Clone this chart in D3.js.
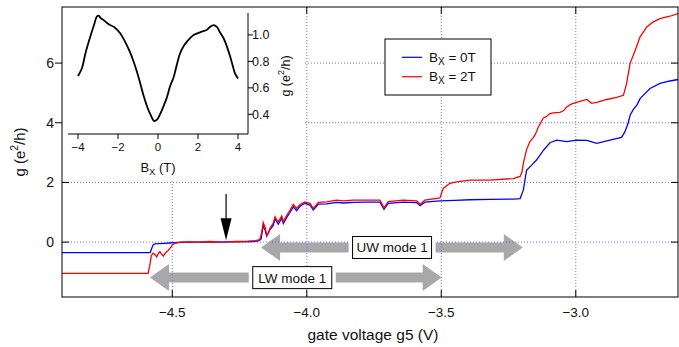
<!DOCTYPE html>
<html><head><meta charset="utf-8">
<script src="https://cdn.jsdelivr.net/npm/d3@7"></script>
<style>body{margin:0;background:#fff} text{font-family:"Liberation Sans",Arial,Helvetica,sans-serif;fill:#111}</style>
</head><body><svg id="c" width="679" height="347"></svg>
<script>
// ---- data ----
const xTicks = [-4.5, -4.0, -3.5, -3.0];
const yTicks = [0, 2, 4, 6];
const seriesNames = ["0T", "2T"];
const blue0T = [[-4.91,-0.35],[-4.582,-0.35],[-4.576,-0.2],[-4.57,-0.08],[-4.564,-0.06],[-4.55,-0.05],[-4.53,-0.04],[-4.51,-0.03],[-4.49,-0.02],[-4.47,-0.01],[-4.44,0.0],[-4.40,0.0],[-4.36,0.01],[-4.32,0.0],[-4.28,0.01],[-4.24,0.01],[-4.20,0.02],[-4.18,0.04],[-4.17,0.1],[-4.162,0.55],[-4.155,0.4],[-4.149,0.2],[-4.137,0.42],[-4.125,0.55],[-4.118,0.78],[-4.106,0.6],[-4.093,0.8],[-4.087,0.62],[-4.075,0.82],[-4.062,1.0],[-4.05,1.18],[-4.038,1.05],[-4.025,1.2],[-4.007,1.3],[-3.988,1.24],[-3.976,1.08],[-3.957,1.27],[-3.926,1.28],[-3.889,1.33],[-3.864,1.31],[-3.827,1.33],[-3.777,1.34],[-3.728,1.34],[-3.713,1.1],[-3.697,1.3],[-3.641,1.34],[-3.591,1.32],[-3.579,1.22],[-3.561,1.34],[-3.505,1.38],[-3.45,1.4],[-3.393,1.42],[-3.319,1.43],[-3.232,1.44],[-3.207,1.46],[-3.195,1.74],[-3.183,2.41],[-3.164,2.58],[-3.146,2.75],[-3.12,3.08],[-3.096,3.33],[-3.071,3.42],[-3.034,3.37],[-2.997,3.42],[-2.959,3.41],[-2.922,3.31],[-2.873,3.42],[-2.83,3.51],[-2.817,3.7],[-2.805,4.0],[-2.798,4.25],[-2.786,4.45],[-2.773,4.59],[-2.761,4.81],[-2.724,5.15],[-2.687,5.32],[-2.65,5.4],[-2.62,5.45]];
const red2T = [[-4.91,-1.05],[-4.59,-1.05],[-4.584,-0.8],[-4.578,-0.45],[-4.571,-0.37],[-4.564,-0.42],[-4.558,-0.5],[-4.552,-0.38],[-4.546,-0.32],[-4.54,-0.4],[-4.533,-0.47],[-4.527,-0.38],[-4.521,-0.32],[-4.515,-0.28],[-4.509,-0.21],[-4.497,-0.07],[-4.485,-0.03],[-4.471,0.0],[-4.44,0.01],[-4.40,0.0],[-4.36,0.02],[-4.32,0.0],[-4.30,0.01],[-4.26,0.02],[-4.22,0.03],[-4.19,0.05],[-4.175,0.08],[-4.168,0.3],[-4.162,0.66],[-4.155,0.5],[-4.149,0.23],[-4.143,0.3],[-4.137,0.46],[-4.125,0.63],[-4.118,0.85],[-4.112,0.75],[-4.106,0.68],[-4.093,0.88],[-4.087,0.68],[-4.075,0.9],[-4.062,1.07],[-4.05,1.26],[-4.038,1.13],[-4.025,1.26],[-4.007,1.35],[-3.988,1.3],[-3.976,1.13],[-3.957,1.33],[-3.926,1.35],[-3.889,1.41],[-3.864,1.38],[-3.827,1.41],[-3.777,1.41],[-3.728,1.41],[-3.713,1.15],[-3.697,1.36],[-3.641,1.41],[-3.591,1.38],[-3.579,1.26],[-3.561,1.41],[-3.505,1.48],[-3.493,1.8],[-3.468,1.97],[-3.443,2.02],[-3.393,2.08],[-3.319,2.08],[-3.232,2.13],[-3.207,2.2],[-3.2,2.35],[-3.195,2.64],[-3.183,3.1],[-3.17,3.38],[-3.158,3.5],[-3.151,3.6],[-3.139,3.86],[-3.121,4.15],[-3.108,4.22],[-3.096,4.31],[-3.084,4.33],[-3.059,4.35],[-3.046,4.4],[-3.034,4.53],[-3.015,4.63],[-2.997,4.68],[-2.959,4.78],[-2.941,4.65],[-2.922,4.68],[-2.885,4.78],[-2.848,4.85],[-2.823,4.92],[-2.811,5.32],[-2.798,5.99],[-2.779,6.43],[-2.761,6.88],[-2.736,7.21],[-2.712,7.38],[-2.687,7.49],[-2.65,7.57],[-2.62,7.66]];
const insetCurve = [[-4.0,0.69],[-3.8,0.75],[-3.63,0.86],[-3.38,0.99],[-3.2,1.075],[-3.05,1.14],[-2.95,1.145],[-2.88,1.13],[-2.7,1.11],[-2.55,1.09],[-2.4,1.075],[-2.2,1.06],[-1.9,1.015],[-1.65,0.95],[-1.4,0.87],[-1.2,0.79],[-1.05,0.72],[-0.9,0.64],[-0.7,0.53],[-0.5,0.44],[-0.38,0.40],[-0.2,0.35],[-0.05,0.36],[0.1,0.40],[0.3,0.47],[0.45,0.53],[0.6,0.61],[0.78,0.68],[0.95,0.78],[1.1,0.86],[1.3,0.92],[1.45,0.95],[1.78,1.0],[2.1,1.02],[2.45,1.04],[2.6,1.06],[2.78,1.075],[2.95,1.06],[3.1,1.02],[3.28,0.975],[3.45,0.91],[3.6,0.84],[3.75,0.76],[3.85,0.71],[4.0,0.67]];
const insetXTicks = [-4, -2, 0, 2, 4];
const insetYTicks = [0.4, 0.6, 0.8, 1.0];
const modeLabels = ["UW mode 1", "LW mode 1"];
const modeFrom = [-4.170, -4.583];
const modeTo = [-3.197, -3.4985];
const modeG = [-0.18, -1.19];
const modeBoxV = [-3.683, -4.054];
const markerV = -4.30, markerTop = 1.61, markerHead = 0.80, markerTip = 0.06;

// ---- drawing ----
const svg = d3.select("#c");
const L = 62, R = 678, T = 7, B = 297;
const x = d3.scaleLinear().domain([-4.91, -2.62]).range([L, R]);
const y = d3.scaleLinear().domain([-1.84, 7.88]).range([B, T]);
const gridColor = "#6f6fff";
const fmt = d => d3.format(".1f")(d).replace("-", "\u2212");

// gray double arrows
const gray = "#a8a8a8";
modeLabels.forEach((lab, i) => {
  const x1 = x(modeFrom[i]), x2 = x(modeTo[i]), yc = y(modeG[i]);
  const h = 5, H = 13.5, HL = 19;
  const pts = [[x1,yc],[x1+HL,yc-H],[x1+HL,yc-h],[x2-HL,yc-h],[x2-HL,yc-H],[x2,yc],[x2-HL,yc+H],[x2-HL,yc+h],[x1+HL,yc+h],[x1+HL,yc+H]];
  svg.append("path").attr("d", d3.line()(pts) + "Z").attr("fill", gray);
});

// grid
svg.append("g").selectAll("line").data(xTicks).join("line")
  .attr("x1", d => x(d)).attr("x2", d => x(d)).attr("y1", T).attr("y2", B)
  .attr("stroke", gridColor).attr("stroke-width", 1).attr("stroke-dasharray", "1,2");
svg.append("g").selectAll("line").data(yTicks).join("line")
  .attr("y1", d => y(d)).attr("y2", d => y(d)).attr("x1", L).attr("x2", R)
  .attr("stroke", gridColor).attr("stroke-width", 1).attr("stroke-dasharray", "1,2");

// inward ticks
const tk = 7;
svg.append("g").selectAll("line").data(xTicks).join("line")
  .attr("x1", d => x(d)).attr("x2", d => x(d)).attr("y1", B).attr("y2", B - tk).attr("stroke", "#000");
svg.append("g").selectAll("line").data(xTicks).join("line")
  .attr("x1", d => x(d)).attr("x2", d => x(d)).attr("y1", T).attr("y2", T + tk).attr("stroke", "#000");
svg.append("g").selectAll("line").data(yTicks).join("line")
  .attr("y1", d => y(d)).attr("y2", d => y(d)).attr("x1", L).attr("x2", L + tk).attr("stroke", "#000");
svg.append("g").selectAll("line").data(yTicks).join("line")
  .attr("y1", d => y(d)).attr("y2", d => y(d)).attr("x1", R).attr("x2", R - tk).attr("stroke", "#000");

// curves
const line = d3.line().x(d => x(d[0])).y(d => y(d[1]));
svg.append("path").datum(blue0T).attr("d", line).attr("fill", "none").attr("stroke", "#0000ff").attr("stroke-width", 1.3);
svg.append("path").datum(red2T).attr("d", line).attr("fill", "none").attr("stroke", "#ff0000").attr("stroke-width", 1.3);

// mode label boxes
modeLabels.forEach((lab, i) => {
  const cx = x(modeBoxV[i]), cy = y(modeG[i]);
  const w = 79, hh = 22;
  svg.append("rect").attr("x", cx - w/2 - 4).attr("y", cy - hh/2).attr("width", w + 8).attr("height", hh).attr("fill", "#fff");
  svg.append("rect").attr("x", cx - w/2).attr("y", cy - hh/2).attr("width", w).attr("height", hh)
    .attr("fill", "#fff").attr("stroke", "#000").attr("stroke-width", 1);
  svg.append("text").attr("x", cx).attr("y", cy + 5).attr("text-anchor", "middle").attr("font-size", 13.5).text(lab);
});

// black marker arrow
{
  const mx = x(markerV);
  svg.append("line").attr("x1", mx).attr("x2", mx).attr("y1", y(markerTop)).attr("y2", y(markerHead) + 2).attr("stroke", "#000").attr("stroke-width", 1.2);
  svg.append("path").attr("d", d3.line()([[mx - 5.5, y(markerHead)], [mx + 5.5, y(markerHead)], [mx, y(markerTip)]]) + "Z").attr("fill", "#000");
}

// inset background
svg.append("rect").attr("x", L).attr("y", T).attr("width", 305 - L).attr("height", 179 - T).attr("fill", "#fff");

// outward left ticks where the inset covers the inner ones
svg.append("g").selectAll("line").data(yTicks.filter(d => d >= 4)).join("line")
  .attr("y1", d => y(d)).attr("y2", d => y(d)).attr("x1", L - 7).attr("x2", L).attr("stroke", "#000");

// frame
svg.append("rect").attr("x", L).attr("y", T).attr("width", R - L).attr("height", B - T)
  .attr("fill", "none").attr("stroke", "#000").attr("stroke-width", 1);

// main tick labels
svg.append("g").selectAll("text").data(xTicks).join("text")
  .attr("x", d => x(d)).attr("y", 317).attr("text-anchor", "middle").attr("font-size", 13.5).text(fmt);
svg.append("g").selectAll("text").data(yTicks).join("text")
  .attr("x", 54).attr("y", d => y(d) + 5).attr("text-anchor", "end").attr("font-size", 14).text(d => d);

// axis titles
svg.append("text").attr("x", 373).attr("y", 340).attr("text-anchor", "middle").attr("font-size", 15.5).text("gate voltage g5 (V)");
{
  const t = svg.append("text").attr("transform", "translate(25,152) rotate(-90)").attr("text-anchor", "middle").attr("font-size", 15);
  t.append("tspan").text("g (e");
  t.append("tspan").attr("font-size", 10.5).attr("dy", -7).text("2");
  t.append("tspan").attr("dy", 7).text("/h)");
}

// inset
const ix = d3.scaleLinear().domain([-4.5, 4.5]).range([68, 248]);
const iy = d3.scaleLinear().domain([0.251, 1.166]).range([134, 13]);
const ig = svg.append("g");
ig.append("path").datum(insetCurve).attr("d", d3.line().x(d => ix(d[0])).y(d => iy(d[1])).curve(d3.curveCatmullRom))
  .attr("fill", "none").attr("stroke", "#000").attr("stroke-width", 1.8);
ig.append("line").attr("x1", 68).attr("x2", 248).attr("y1", 134).attr("y2", 134).attr("stroke", "#000");
ig.append("line").attr("x1", 248).attr("x2", 248).attr("y1", 13).attr("y2", 134).attr("stroke", "#000");
ig.selectAll(".itx").data(insetXTicks).join("line").attr("class", "itx")
  .attr("x1", d => ix(d)).attr("x2", d => ix(d)).attr("y1", 134).attr("y2", 139).attr("stroke", "#000");
ig.selectAll(".ity").data(insetYTicks).join("line").attr("class", "ity")
  .attr("y1", d => iy(d)).attr("y2", d => iy(d)).attr("x1", 248).attr("x2", 253).attr("stroke", "#000");
ig.selectAll(".itxl").data(insetXTicks).join("text").attr("class", "itxl")
  .attr("x", d => ix(d)).attr("y", 151).attr("text-anchor", "middle").attr("font-size", 11.5)
  .text(d => String(d).replace("-", "\u2212"));
ig.selectAll(".ityl").data(insetYTicks).join("text").attr("class", "ityl")
  .attr("x", 252).attr("y", d => iy(d) + 4.5).attr("font-size", 12.5).text(d => d3.format(".1f")(d));
{
  const t = ig.append("text").attr("x", 158).attr("y", 172).attr("text-anchor", "middle").attr("font-size", 13);
  t.append("tspan").text("B");
  t.append("tspan").attr("font-size", 9.5).attr("dy", 3).text("X");
  t.append("tspan").attr("dy", -3).text(" (T)");
}
{
  const t = ig.append("text").attr("transform", "translate(290,76) rotate(-90)").attr("text-anchor", "middle").attr("font-size", 12.5);
  t.append("tspan").text("g (e");
  t.append("tspan").attr("font-size", 9).attr("dy", -6).text("2");
  t.append("tspan").attr("dy", 6).text("/h)");
}

// legend
{
  const lg = svg.append("g");
  lg.append("rect").attr("x", 385).attr("y", 39).attr("width", 106).attr("height", 56).attr("fill", "#fff").attr("stroke", "#000");
  const cols = ["#0000ff", "#ff0000"];
  seriesNames.forEach((n, i) => {
    const yy = 57.3 + i * 19.4;
    lg.append("line").attr("x1", 402).attr("x2", 422).attr("y1", yy).attr("y2", yy).attr("stroke", cols[i]).attr("stroke-width", 1.2);
    const t = lg.append("text").attr("x", 429).attr("y", yy + 4.7).attr("font-size", 13.5);
    t.append("tspan").text("B");
    t.append("tspan").attr("font-size", 10).attr("dy", 3).text("X");
    t.append("tspan").attr("dy", -3).text(" = " + n);
  });
}
</script></body></html>
